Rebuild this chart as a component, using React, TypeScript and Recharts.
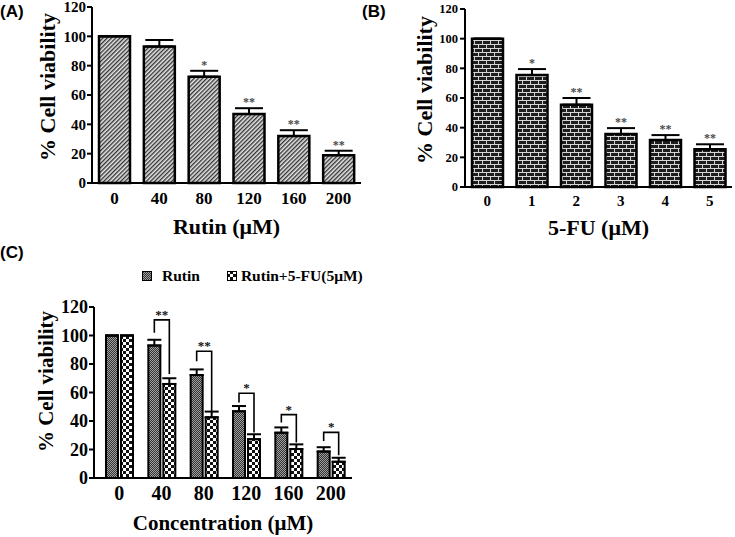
import React from "react";
import { BarChart, Bar, XAxis, YAxis, ErrorBar, LabelList, Legend } from "recharts";

const SERIF = '"Liberation Serif", "Times New Roman", serif';
const SANS = '"Liberation Sans", Arial, sans-serif';

// (A) rutin alone
const rutinDoses = ["0", "40", "80", "120", "160", "200"];
const rutinViability = [100, 93, 72.5, 47, 32, 19];
const rutinError = [0, 4.5, 4, 4, 4, 3];
const rutinSig = ["", "", "*", "**", "**", "**"];

// (B) 5-FU alone
const fuDoses = ["0", "1", "2", "3", "4", "5"];
const fuViability = [100, 75.5, 55.5, 35.7, 31.7, 25.5];
const fuError = [0, 4, 4.5, 4, 3.3, 3.3];
const fuSig = ["", "*", "**", "**", "**", "**"];

// (C) rutin vs rutin + 5-FU
const seriesNames = ["Rutin", "Rutin+5-FU(5μM)"];
const comboRutin = [100, 93, 72.2, 46.8, 31.8, 18.6];
const comboRutinError = [0, 4, 4, 3.7, 3.7, 3];
const comboMix = [100, 66, 42.6, 27.2, 20.3, 11.4];
const comboMixError = [0, 4, 4, 3.5, 3.3, 2.8];
const comboSig = ["", "**", "**", "*", "*", "*"];
const bracketTop = [0, 111, 89, 59.5, 44.5, 32];
const bracketLeftEnd = [0, 102, 82, 53, 39, 26];
const bracketRightEnd = [0, 73, 47, 32, 25, 16];

const yTicks = [0, 20, 40, 60, 80, 100, 120];

type Row = { dose: string; value: number; err: number; range: number[]; sig: string };

const makeRows = (doses: string[], vals: number[], errs: number[], sig: string[]): Row[] =>
  doses.map((d, i) => ({ dose: d, value: vals[i], err: errs[i], range: [0, errs[i]], sig: sig[i] }));

const rowsA = makeRows(rutinDoses, rutinViability, rutinError, rutinSig);
const rowsB = makeRows(fuDoses, fuViability, fuError, fuSig);
const rowsC = rutinDoses.map((d, i) => ({
  dose: d,
  rutin: comboRutin[i],
  rutinRange: [0, comboRutinError[i]],
  mix: comboMix[i],
  mixRange: [0, comboMixError[i]],
  sig: comboSig[i],
  top: bracketTop[i],
  leftEnd: bracketLeftEnd[i],
  rightEnd: bracketRightEnd[i],
}));

const BAR_GAP = 3;

const yTitle = (cx: number, shift: number, size: number) => (props: any) => {
  const vb = props.viewBox || {};
  const cy = vb.y + vb.height / 2 + shift;
  return (
    <text
      x={cx}
      y={cy}
      transform={`rotate(-90 ${cx} ${cy})`}
      textAnchor="middle"
      dominantBaseline="central"
      fontFamily={SERIF}
      fontWeight={700}
      fontSize={size}
      fill="#000"
    >
      % Cell viability
    </text>
  );
};

// stars sit just above the error bar
const starLabel = (rows: Row[]) => (props: any) => {
  const { x, y, width, height, index } = props;
  const row = rows[index];
  if (!row || !row.sig) return null;
  const ppu = Number(height) / row.value;
  const top = Number(y) - row.err * ppu;
  return (
    <text
      x={Number(x) + Number(width) / 2}
      y={top - 2}
      textAnchor="middle"
      fill="#4a4a4a"
      fontSize={12}
      fontWeight={700}
      fontFamily={SERIF}
    >
      {row.sig}
    </text>
  );
};

// comparison bracket drawn from the rutin bar to its partner
const bracketLabel = (props: any) => {
  const { x, y, width, height, index } = props;
  const row = rowsC[index];
  if (!row || !row.sig) return null;
  const w = Number(width);
  const base = Number(y) + Number(height);
  const ppu = Number(height) / row.rutin;
  const yAt = (v: number) => base - v * ppu;
  const x1 = Number(x) + w / 2;
  const x2 = Number(x) + w + BAR_GAP + w / 2;
  const top = yAt(row.top);
  return (
    <g>
      <path
        d={`M${x1},${yAt(row.leftEnd)}V${top}H${x2}V${yAt(row.rightEnd)}`}
        fill="none"
        stroke="#000"
        strokeWidth={1.6}
      />
      <text x={(x1 + x2) / 2} y={top - 1} textAnchor="middle" fill="#111" fontSize={13} fontWeight={700} fontFamily={SERIF}>
        {row.sig}
      </text>
    </g>
  );
};

const Patterns = () => (
  <defs>
    <pattern id="hatchA" width="3" height="3" patternUnits="userSpaceOnUse" patternTransform="rotate(45)">
      <rect width="3" height="3" fill="#e6e6e6" />
      <line x1="0.7" y1="0" x2="0.7" y2="3" stroke="#2a2a2a" strokeWidth="1.3" />
    </pattern>
    <pattern id="brickB" width="8" height="8" patternUnits="userSpaceOnUse">
      <rect width="8" height="8" fill="#1e1e1e" />
      <path d="M0 0.5H8M0 4.5H8M0.5 0.5V4.5M4.5 4.5V8" stroke="#d6d6d6" strokeWidth="1" />
    </pattern>
    <pattern id="dotsC" width="2" height="2" patternUnits="userSpaceOnUse">
      <rect width="2" height="2" fill="#a0a0a0" />
      <rect width="1" height="1" fill="#333" />
      <rect x="1" y="1" width="1" height="1" fill="#333" />
    </pattern>
    <pattern id="checkC" width="6" height="6" patternUnits="userSpaceOnUse">
      <rect width="6" height="6" fill="#111" />
      <rect width="3" height="3" fill="#fff" />
      <rect x="3" y="3" width="3" height="3" fill="#fff" />
    </pattern>
  </defs>
);

const tickFont = (size: number) => ({ fill: "#000", fontSize: size, fontWeight: 700, fontFamily: SERIF });

type PanelProps = {
  rows: Row[];
  fill: string;
  xTitle: string;
  width: number;
  yAxisWidth: number;
  margin: { top: number; right: number; bottom: number; left: number };
  yTick: number;
  xTick: number;
  yTickMargin: number;
  xTickMargin: number;
  titleX: number;
  titleShift: number;
  xTitleOffset: number;
};

const SinglePanel: React.FC<PanelProps> = (p) => (
  <BarChart width={p.width} height={245} data={p.rows} margin={p.margin}>
    <Patterns />
    <XAxis
      dataKey="dose"
      height={51}
      stroke="#000"
      strokeWidth={2}
      tickLine={false}
      tickSize={0}
      tickMargin={p.xTickMargin}
      tick={tickFont(p.xTick)}
      label={{
        value: p.xTitle,
        position: "insideBottom",
        offset: p.xTitleOffset,
        fontSize: 22,
        fontWeight: 700,
        fontFamily: SERIF,
        fill: "#000",
      }}
    />
    <YAxis
      width={p.yAxisWidth}
      domain={[0, 120]}
      ticks={yTicks}
      interval={0}
      stroke="#000"
      strokeWidth={2}
      tickSize={5}
      tickMargin={p.yTickMargin}
      tick={tickFont(p.yTick)}
      label={{ content: yTitle(p.titleX, p.titleShift, 22) }}
    />
    <Bar dataKey="value" barSize={31} fill={p.fill} stroke="#000" strokeWidth={2.5} isAnimationActive={false}>
      <ErrorBar dataKey="range" width={14} strokeWidth={2} stroke="#000" direction="y" />
      <LabelList dataKey="sig" content={starLabel(p.rows)} />
    </Bar>
  </BarChart>
);

const ComboLegend = () => {
  const fills = ["url(#dotsC)", "url(#checkC)"];
  const gaps = [10, 4];
  return (
    <div
      style={{
        display: "flex",
        alignItems: "center",
        whiteSpace: "nowrap",
        fontFamily: SERIF,
        fontWeight: 700,
        fontSize: 15.5,
        color: "#000",
        lineHeight: 1,
      }}
    >
      {seriesNames.map((name, i) => (
        <div key={name} style={{ display: "flex", alignItems: "center", flexShrink: 0, marginLeft: i === 0 ? 0 : 27 }}>
          <svg width={10} height={10} style={{ display: "block" }}>
            <rect x={0.5} y={0.5} width={9} height={9} fill={fills[i]} stroke="#000" strokeWidth={1} />
          </svg>
          <span style={{ marginLeft: gaps[i] }}>{name}</span>
        </div>
      ))}
    </div>
  );
};

const panelLabel = (text: string, left: number, top: number) => (
  <div style={{ position: "absolute", left, top, fontFamily: SANS, fontWeight: 700, fontSize: 17, lineHeight: "20px", color: "#000" }}>
    {text}
  </div>
);

export default function App() {
  return (
    <div style={{ position: "absolute", left: 0, top: 0, width: 735, height: 537, background: "#fff", overflow: "hidden" }}>
      <div style={{ position: "absolute", left: 0, top: 0 }}>
        <SinglePanel
          rows={rowsA}
          fill="url(#hatchA)"
          xTitle="Rutin (μM)"
          width={365}
          yAxisWidth={92}
          margin={{ top: 7, right: 4, bottom: 11, left: 0 }}
          yTick={15}
          xTick={17}
          yTickMargin={1}
          xTickMargin={9}
          titleX={47}
          titleShift={-8}
          xTitleOffset={0}
        />
      </div>
      <div style={{ position: "absolute", left: 370, top: 0 }}>
        <SinglePanel
          rows={rowsB}
          fill="url(#brickB)"
          xTitle="5-FU (μM)"
          width={365}
          yAxisWidth={95}
          margin={{ top: 9, right: 3, bottom: 7, left: 0 }}
          yTick={12.5}
          xTick={15}
          yTickMargin={2}
          xTickMargin={8}
          titleX={54}
          titleShift={-8}
          xTitleOffset={3}
        />
      </div>
      <div style={{ position: "absolute", left: 0, top: 255 }}>
        <BarChart width={372} height={282} data={rowsC} margin={{ top: 52, right: 20, bottom: 4, left: 0 }} barGap={BAR_GAP}>
          <Patterns />
          <XAxis
            dataKey="dose"
            height={55}
            padding={{ left: 4, right: 0 }}
            stroke="#000"
            strokeWidth={2}
            tickLine={false}
            tickSize={0}
            tickMargin={8}
            tick={tickFont(20)}
            label={{
              value: "Concentration (μM)",
              position: "insideBottom",
              offset: 3,
              fontSize: 21,
              fontWeight: 700,
              fontFamily: SERIF,
              fill: "#000",
            }}
          />
          <YAxis
            width={94}
            domain={[0, 120]}
            ticks={yTicks}
            interval={0}
            stroke="#000"
            strokeWidth={2}
            tickSize={5}
            tickMargin={1}
            tick={tickFont(18)}
            label={{ content: yTitle(46, -11, 21) }}
          />
          <Legend
            layout="horizontal"
            verticalAlign="middle"
            align="center"
            content={() => <ComboLegend />}
            wrapperStyle={{ top: 13, left: 142, width: 228, height: 12 }}
          />
          <Bar dataKey="rutin" name={seriesNames[0]} barSize={12} fill="url(#dotsC)" stroke="#000" strokeWidth={2} isAnimationActive={false}>
            <ErrorBar dataKey="rutinRange" width={7} strokeWidth={2} stroke="#000" direction="y" />
            <LabelList dataKey="sig" content={bracketLabel} />
          </Bar>
          <Bar dataKey="mix" name={seriesNames[1]} barSize={12} fill="url(#checkC)" stroke="#000" strokeWidth={2} isAnimationActive={false}>
            <ErrorBar dataKey="mixRange" width={7} strokeWidth={2} stroke="#000" direction="y" />
          </Bar>
        </BarChart>
      </div>
      {panelLabel("(A)", 0, 2)}
      {panelLabel("(B)", 362, 2)}
      {panelLabel("(C)", 0, 243)}
    </div>
  );
}
